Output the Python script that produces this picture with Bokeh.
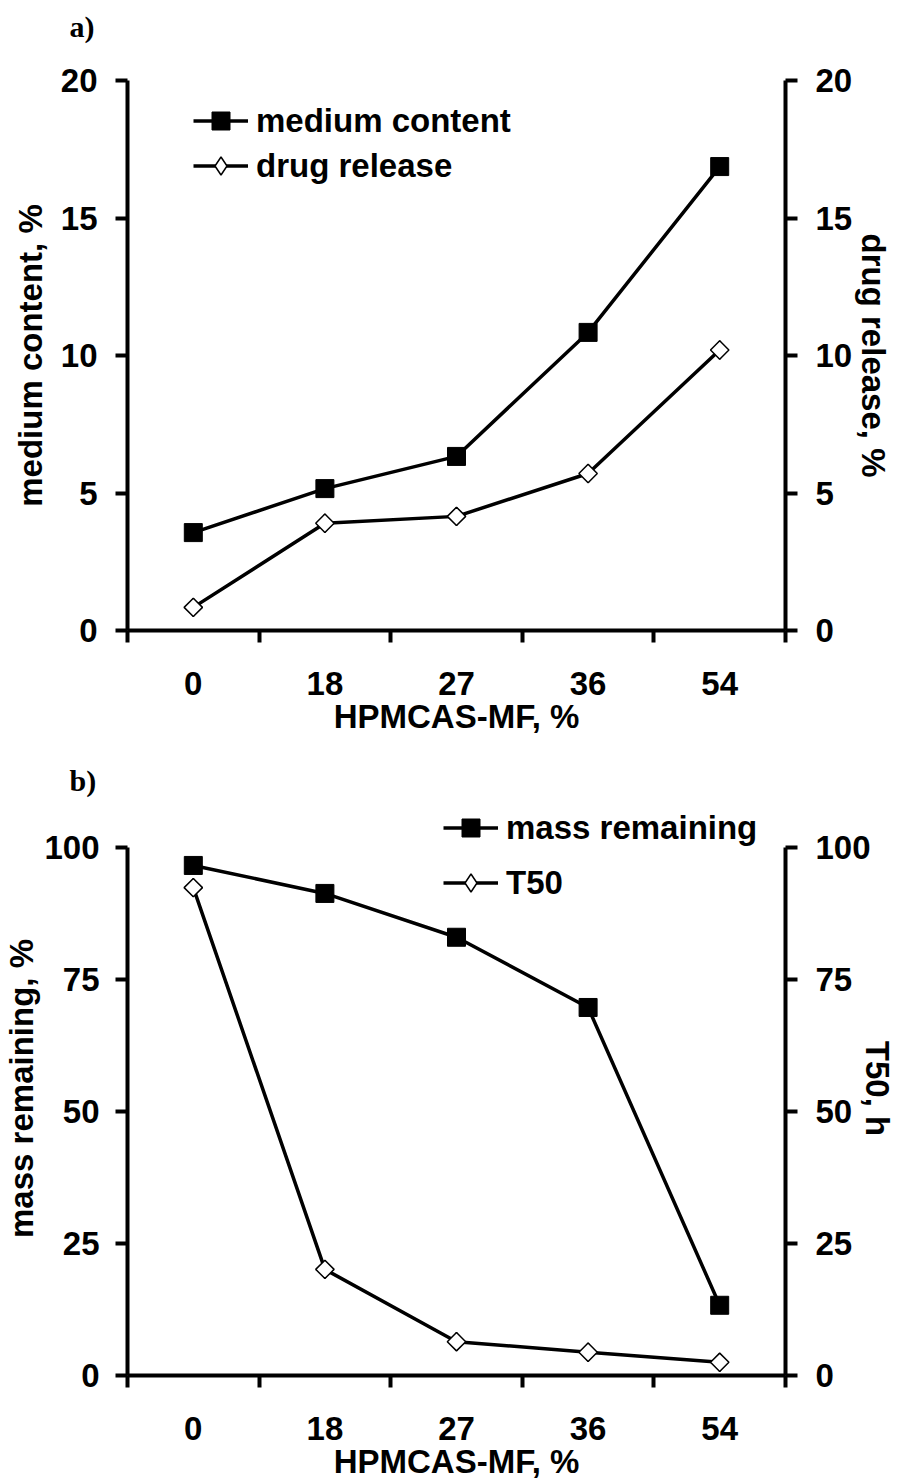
import numpy as np
from bokeh.plotting import figure
from bokeh.models import Range1d, LinearAxis, FixedTicker, Legend, LegendItem
from bokeh.layouts import column
from bokeh.embed import file_html
from bokeh.resources import INLINE

categories = ["0", "18", "27", "36", "54"]
medium_content = [3.56, 5.16, 6.33, 10.84, 16.87]
drug_release = [0.84, 3.9, 4.15, 5.71, 10.2]
mass_remaining = [96.6, 91.3, 83.0, 69.7, 13.3]
t50 = [92.4, 20.1, 6.4, 4.4, 2.5]

FONT = "Liberation Sans"
FS = "33px"
xs = [i + 0.5 for i in range(len(categories))]


def style_axis(ax):
    ax.axis_line_width = 4
    ax.axis_line_color = "black"
    ax.major_tick_line_width = 4
    ax.major_tick_line_color = "black"
    ax.minor_tick_line_width = 4
    ax.minor_tick_line_color = "black"
    ax.major_label_text_font = FONT
    ax.major_label_text_font_style = "bold"
    ax.major_label_text_font_size = FS
    ax.major_label_text_color = "black"
    ax.axis_label_text_font = FONT
    ax.axis_label_text_font_style = "bold"
    ax.axis_label_text_font_size = FS
    ax.axis_label_text_color = "black"


def make_panel(y1, y2, ymax, ytop, yticks, lab1, lab2, ylab_left, ylab_right, tag,
               top, bottom, legend_loc, legend_spacing, lstand, lalstand, rstand, ralstand):
    p = figure(width=898, height=741, output_backend="svg", toolbar_location=None,
               x_range=Range1d(0, 5), y_range=Range1d(0, ytop),
               min_border_left=126, min_border_right=113,
               min_border_top=top, min_border_bottom=bottom)
    p.outline_line_color = None
    p.xgrid.visible = False
    p.ygrid.visible = False
    p.extra_y_ranges = {"r": Range1d(0, ytop)}

    p.title.text = tag
    p.title.align = "left"
    p.title.offset = 68 - 126
    p.title.standoff = 10
    p.title.text_font = "Liberation Serif"
    p.title.text_font_style = "bold"
    p.title.text_font_size = "30px"
    p.title.text_color = "black"

    xa = p.xaxis[0]
    xa.ticker = FixedTicker(ticks=xs, minor_ticks=[0, 1, 2, 3, 4, 5])
    xa.major_label_overrides = {x: c for x, c in zip(xs, categories)}
    style_axis(xa)
    xa.major_tick_out = 0
    xa.major_tick_in = 0
    xa.minor_tick_out = 12
    xa.minor_tick_in = 0
    xa.major_label_standoff = 29
    xa.axis_label = "HPMCAS-MF, %"
    xa.axis_label_standoff = 0

    ya = p.yaxis[0]
    ya.ticker = FixedTicker(ticks=yticks)
    ya.bounds = (0, ymax)
    style_axis(ya)
    ya.major_tick_out = 12
    ya.major_tick_in = 0
    ya.major_label_standoff = lstand
    ya.axis_label = ylab_left
    ya.axis_label_standoff = lalstand

    ra = LinearAxis(y_range_name="r", ticker=FixedTicker(ticks=yticks), bounds=(0, ymax))
    style_axis(ra)
    ra.major_tick_out = 12
    ra.major_tick_in = 0
    ra.major_label_standoff = rstand
    ra.axis_label = ylab_right
    ra.axis_label_standoff = ralstand
    if "axis_label_orientation" in ra.properties():
        ra.axis_label_orientation = "vertical"
    p.add_layout(ra, "right")

    l1 = p.line(xs, y1, line_width=3.5, line_color="black")
    s1 = p.scatter(xs, y1, marker="square", size=18, fill_color="black", line_color="black")
    l2 = p.line(xs, y2, line_width=3.5, line_color="black", y_range_name="r")
    s2 = p.scatter(xs, y2, marker="diamond", size=18, fill_color="white",
                   line_color="black", line_width=1.5, y_range_name="r")
    p.scatter(xs, y2, marker="square", angle=np.pi / 4, size=13,
              fill_color="white", line_color="black", line_width=1.5, y_range_name="r")

    leg = Legend(items=[LegendItem(label=lab1, renderers=[l1, s1]),
                        LegendItem(label=lab2, renderers=[l2, s2])],
                 location=legend_loc)
    leg.background_fill_alpha = 0
    leg.border_line_color = None
    leg.padding = 0
    leg.margin = 0
    leg.spacing = legend_spacing
    leg.glyph_width = 55
    leg.glyph_height = 45
    leg.label_height = 45
    leg.label_standoff = 8
    leg.label_text_font = FONT
    leg.label_text_font_style = "bold"
    leg.label_text_font_size = FS
    leg.label_text_color = "black"
    leg.label_text_baseline = "middle"
    p.add_layout(leg, "center")
    return p


ytop_b = 100 * (634 - 60) / (634 - 106)

pa = make_panel(medium_content, drug_release, 20, 20, [0, 5, 10, 15, 20],
                "medium content", "drug release", "medium content, %", "drug release, %",
                "a)\n", 80, 111, (66, 442), 0, 18, 9, 18, 0)
pb = make_panel(mass_remaining, t50, 100, ytop_b, [0, 25, 50, 75, 100],
                "mass remaining", "T50", "mass remaining, %", "T50, h",
                "b)", 60, 107, (316, 470), 10, 16, 1, 18, -15)

layout = column(pa, pb, spacing=0)
open("out.html", "w").write(file_html(layout, INLINE))
